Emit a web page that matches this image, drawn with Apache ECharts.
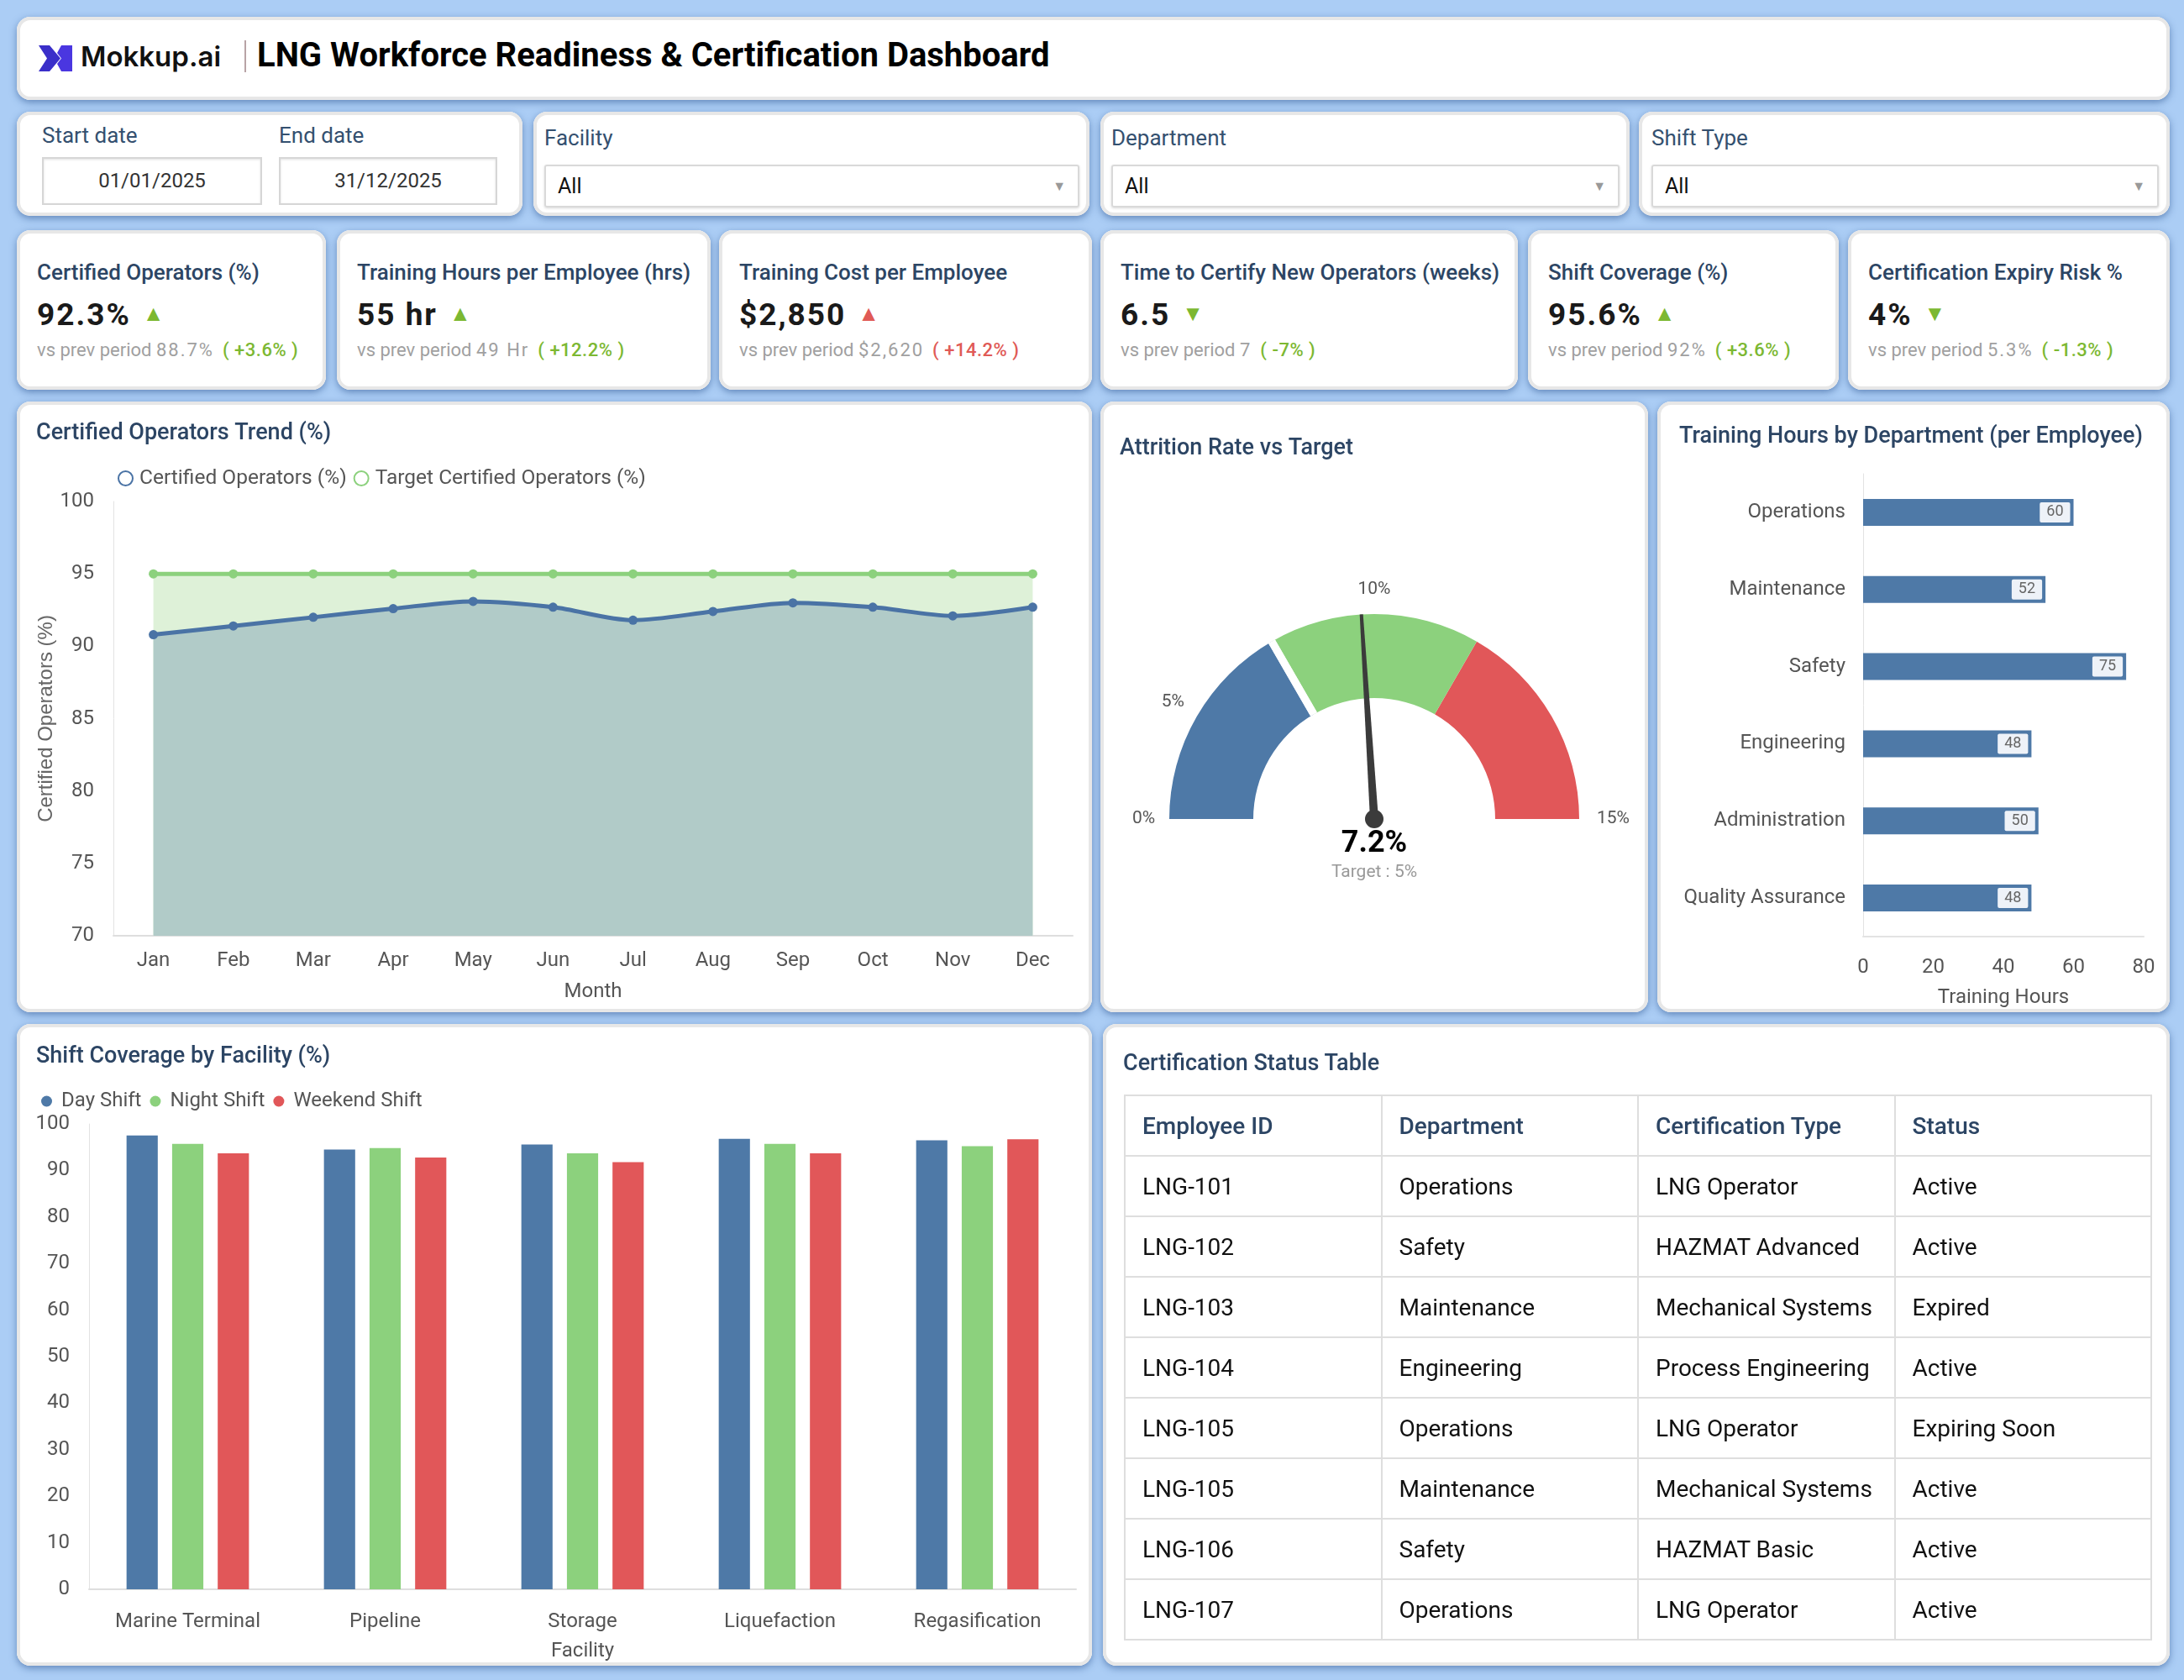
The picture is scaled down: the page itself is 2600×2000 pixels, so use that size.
<!DOCTYPE html>
<html>
<head>
<meta charset="UTF-8">
<title>LNG Workforce Readiness &amp; Certification Dashboard</title>
<script type="text/javascript" src="https://cdn.jsdelivr.net/npm/echarts@6/dist/echarts.min.js"></script>
<style type="text/css">
	body{margin:0;width:2600px;height:2000px;background:#abcdf5;font-family:Roboto,"Noto Sans",sans-serif;position:relative;overflow:hidden;}
	.card{position:absolute;background:#fff;border-radius:16px;box-sizing:border-box;
		box-shadow:inset 0 0 0 4px #e7e7e7, 0 3px 9px rgba(40,80,140,.55);}
	.chart{position:absolute;left:0;top:0;width:100%;height:100%;}
	.lbl{position:absolute;font-size:26px;color:#34506f;}
	.datebox{position:absolute;height:57px;border:2px solid #d6d6d6;box-sizing:border-box;box-shadow:inset 0 1px 3px rgba(0,0,0,.12);
		font-size:24px;color:#333;text-align:center;line-height:53px;}
	.select{position:absolute;height:51px;border:2px solid #d9d9d9;border-radius:3px;box-sizing:border-box;box-shadow:0 1px 3px rgba(0,0,0,.15);
		font-size:25px;color:#111;line-height:47px;padding-left:14px;}
	.select .arr{position:absolute;right:14px;top:0;color:#999;font-size:16px;}
	.kpi-title{position:absolute;left:24px;top:35px;font-size:26px;font-weight:500;color:#2c4564;white-space:nowrap;}
	.kpi-val{position:absolute;left:24px;top:79px;font-size:37px;font-weight:700;color:#1a1a1a;letter-spacing:2px;white-space:nowrap;}
	.kpi-val .tri{font-size:26px;margin-left:14px;vertical-align:5px;letter-spacing:0;}
	.kpi-sub{position:absolute;left:24px;top:130px;font-size:22px;color:#a0a0a0;white-space:nowrap;}
	.kpi-sub .num{letter-spacing:2px;}
	.kpi-sub .d{margin-left:10px;font-weight:500;letter-spacing:0.5px;}
	.good{color:#7cb832;}
	.bad{color:#e05a56;}
	#tbl{position:absolute;left:25px;top:84px;width:1224px;border-collapse:collapse;}
	#tbl td{border:2px solid #dedede;height:70px;padding:0 0 0 20px;font-size:28px;color:#111;width:25%;}
	#tbl tr:first-child td{font-weight:500;color:#2c4564;}
</style>
</head>
<body>

<div class="card" style="left:20px;top:20px;width:2563px;height:99px;">
	<svg style="position:absolute;left:26px;top:34px;" width="40" height="31" viewBox="0 0 40 31">
		<polygon points="0,0 13,0 26,15.5 13,31 0,31 10,15.5" fill="#3a2fc9"/>
		<polygon points="27,0 40,0 40,31 27,31 22,22 27,15.5 22,9" fill="#4a36e0"/>
	</svg>
	<div style="position:absolute;left:76px;top:27px;font-family:Inter,Roboto,sans-serif;font-size:33px;font-weight:600;color:#111;">Mokkup.ai</div>
	<div style="position:absolute;left:271px;top:28px;width:2px;height:38px;background:#b8a3a6;"></div>
	<div style="position:absolute;left:286px;top:22px;font-size:40px;font-weight:700;color:#000;white-space:nowrap;">LNG Workforce Readiness &amp; Certification Dashboard</div>
</div>

<div class="card" style="left:20px;top:133px;width:602px;height:124px;">
	<div class="lbl" style="left:30px;top:13px;">Start date</div>
	<div class="lbl" style="left:312px;top:13px;">End date</div>
	<div class="datebox" style="left:30px;top:54px;width:262px;">01/01/2025</div>
	<div class="datebox" style="left:312px;top:54px;width:260px;">31/12/2025</div>
</div>
<div class="card" style="left:635px;top:133px;width:662px;height:124px;">
	<div class="lbl" style="left:13px;top:16px;">Facility</div>
	<div class="select" style="left:13px;top:63px;width:637px;">All<span class="arr">&#9660;</span></div>
</div>
<div class="card" style="left:1310px;top:133px;width:630px;height:124px;">
	<div class="lbl" style="left:13px;top:16px;">Department</div>
	<div class="select" style="left:13px;top:63px;width:605px;">All<span class="arr">&#9660;</span></div>
</div>
<div class="card" style="left:1951px;top:133px;width:632px;height:124px;">
	<div class="lbl" style="left:15px;top:16px;">Shift Type</div>
	<div class="select" style="left:15px;top:63px;width:604px;">All<span class="arr">&#9660;</span></div>
</div>

<div id="kpis"></div>

<div class="card" style="left:20px;top:478px;width:1280px;height:727px;"><div class="chart" id="trend"></div></div>
<div class="card" style="left:1310px;top:478px;width:652px;height:727px;"><div class="chart" id="gauge"></div></div>
<div class="card" style="left:1973px;top:478px;width:610px;height:727px;"><div class="chart" id="hours"></div></div>
<div class="card" style="left:20px;top:1219px;width:1280px;height:764px;"><div class="chart" id="shift"></div></div>
<div class="card" style="left:1313px;top:1219px;width:1270px;height:764px;">
	<div style="position:absolute;left:24px;top:30px;font-size:27px;font-weight:500;color:#2c4564;">Certification Status Table</div>
	<table id="tbl"></table>
</div>

<script type="text/javascript">
	// KPI cards
	var kpiTitles = ['Certified Operators (%)','Training Hours per Employee (hrs)','Training Cost per Employee','Time to Certify New Operators (weeks)','Shift Coverage (%)','Certification Expiry Risk %'];
	var kpiValues = ['92.3%','55 hr','$2,850','6.5','95.6%','4%'];
	var kpiUp = [true,true,true,false,true,false];
	var kpiGood = [true,true,false,true,true,true];
	var kpiPrev = ['88.7%','49 Hr','$2,620','7','92%','5.3%'];
	var kpiDelta = ['+3.6%','+12.2%','+14.2%','-7%','+3.6%','-1.3%'];
	var kpiLeft = [20,401,856,1310,1819,2200];
	var kpiWidth = [368,445,444,497,370,383];

	// charts
	var months = ['Jan','Feb','Mar','Apr','May','Jun','Jul','Aug','Sep','Oct','Nov','Dec'];
	var certifiedPct = [90.8,91.4,92.0,92.6,93.1,92.7,91.8,92.4,93.0,92.7,92.1,92.7];
	var targetPct = [95,95,95,95,95,95,95,95,95,95,95,95];

	var attritionRate = 7.2;
	var attritionTarget = 5;

	var departments = ['Operations','Maintenance','Safety','Engineering','Administration','Quality Assurance'];
	var trainingHours = [60,52,75,48,50,48];

	var facilities = ['Marine Terminal','Pipeline','Storage','Liquefaction','Regasification'];
	var dayShift = [97.5,94.5,95.6,96.8,96.5];
	var nightShift = [95.7,94.8,93.7,95.7,95.2];
	var weekendShift = [93.7,92.8,91.8,93.7,96.7];

	// table
	var empIds = ['LNG-101','LNG-102','LNG-103','LNG-104','LNG-105','LNG-105','LNG-106','LNG-107'];
	var empDepts = ['Operations','Safety','Maintenance','Engineering','Operations','Maintenance','Safety','Operations'];
	var certTypes = ['LNG Operator','HAZMAT Advanced','Mechanical Systems','Process Engineering','LNG Operator','Mechanical Systems','HAZMAT Basic','LNG Operator'];
	var certStatus = ['Active','Active','Expired','Active','Expiring Soon','Active','Active','Active'];

	var BLUE = '#4e79a7', GREEN = '#8cd17d', RED = '#e15759';
	var TITLE = '#2c4564', AXIS = '#555';

	var html = '';
	for(var i = 0;i<kpiTitles.length;i++){
		var cls = kpiGood[i] ? 'good' : 'bad';
		html += '<div class="card" style="left:'+kpiLeft[i]+'px;top:274px;width:'+kpiWidth[i]+'px;height:190px;">'
			+ '<div class="kpi-title">'+kpiTitles[i]+'</div>'
			+ '<div class="kpi-val">'+kpiValues[i]+'<span class="tri '+cls+'">'+(kpiUp[i] ? '&#9650;' : '&#9660;')+'</span></div>'
			+ '<div class="kpi-sub">vs prev period <span class="num">'+kpiPrev[i]+'</span><span class="d '+cls+'">( '+kpiDelta[i]+' )</span></div>'
			+ '</div>';
	}
	document.getElementById('kpis').innerHTML = html;

	var tableData = '<tr><td>Employee ID</td><td>Department</td><td>Certification Type</td><td>Status</td></tr>';
	for(var i = 0;i<empIds.length;i++){
		tableData = tableData + '<tr><td>'+empIds[i]+'</td><td>'+empDepts[i]+'</td><td>'+certTypes[i]+'</td><td>'+certStatus[i]+'</td></tr>';
	}
	document.getElementById('tbl').innerHTML = tableData;

	// Certified operators trend
	var trendChart = echarts.init(document.getElementById('trend'));
	trendChart.setOption({
		textStyle: {fontFamily: 'Roboto'},
		title: {text: 'Certified Operators Trend (%)', left: 18, top: 20, textStyle: {fontSize: 27, fontWeight: 500, color: TITLE}},
		legend: {
			left: 115, top: 74, itemGap: 8, itemWidth: 17, itemHeight: 17,
			textStyle: {fontSize: 24.5, color: AXIS, padding: [0, 0, 0, 3]},
			data: [{name: 'Certified Operators (%)', icon: 'emptyCircle'}, {name: 'Target Certified Operators (%)', icon: 'emptyCircle'}]
		},
		grid: {left: 115, right: 23, top: 119, bottom: 91},
		xAxis: {
			type: 'category', data: months,
			axisLine: {lineStyle: {color: '#dedede', width: 2}}, axisTick: {show: false},
			axisLabel: {color: AXIS, fontSize: 24, margin: 18},
			name: 'Month', nameLocation: 'middle', nameGap: 55, nameTextStyle: {color: AXIS, fontSize: 24}
		},
		yAxis: {
			type: 'value', min: 70, max: 100, interval: 5,
			axisLine: {show: true, lineStyle: {color: '#e3e3e3'}}, splitLine: {show: false},
			axisLabel: {color: AXIS, fontSize: 24, margin: 23},
			name: 'Certified Operators (%)', nameLocation: 'middle', nameGap: 68, nameMoveOverlap: false,
			nameTextStyle: {fontFamily: 'Liberation Sans', fontSize: 24, color: '#666'}
		},
		series: [{
			name: 'Certified Operators (%)', type: 'line', data: certifiedPct, smooth: 0.3,
			symbol: 'circle', symbolSize: 11, z: 3,
			lineStyle: {width: 5, color: '#4a73a5'}, itemStyle: {color: '#4a73a5', borderWidth: 3},
			areaStyle: {color: '#b1cbc8', opacity: 1}
		},{
			name: 'Target Certified Operators (%)', type: 'line', data: targetPct,
			symbol: 'circle', symbolSize: 11, z: 2,
			lineStyle: {width: 5, color: GREEN}, itemStyle: {color: GREEN, borderWidth: 3},
			areaStyle: {color: '#def1d8', opacity: 1}
		}]
	});

	// Attrition gauge
	var gaugeChart = echarts.init(document.getElementById('gauge'));
	var gaugeTicks = {0: '{a|0%}', 2.5: '{b|5%}', 7.5: '{c|10%}', 15: '15%'};
	gaugeChart.setOption({
		textStyle: {fontFamily: 'Roboto'},
		title: {text: 'Attrition Rate vs Target', left: 18, top: 38, textStyle: {fontSize: 27, fontWeight: 500, color: TITLE}},
		series: [{
			type: 'gauge', center: [326, 497], radius: 244,
			startAngle: 180, endAngle: 0, min: 0, max: 15, splitNumber: 6,
			axisLine: {lineStyle: {width: 100, color: [[1/3, BLUE], [2/3, GREEN], [1, RED]]}},
			axisTick: {show: false},
			splitLine: {show: false, length: 0},
			axisLabel: {
				distance: -70, color: '#555', fontSize: 21,
				formatter: function(v){ return gaugeTicks[v] || ''; },
				rich: {
					a: {fontSize: 21, color: '#555', padding: [0, 0, 0, 16]},
					b: {fontSize: 21, color: '#555', padding: [26, 0, 0, 10]},
					c: {fontSize: 21, color: '#555', padding: [20, 0, 0, 0]}
				}
			},
			pointer: {icon: 'path://M3 0 L7 0 L10 100 L0 100 Z', length: '100%', width: 10, itemStyle: {color: '#3b3b3b'}},
			anchor: {show: true, showAbove: true, size: 22, itemStyle: {color: '#3b3b3b'}},
			title: {offsetCenter: [0, 64], fontSize: 21, color: '#999'},
			detail: {offsetCenter: [0, 30], fontSize: 36, fontWeight: 700, color: '#000', formatter: '{value}%'},
			data: [{value: attritionRate, name: 'Target : ' + attritionTarget + '%'}]
		},{
			type: 'gauge', center: [326, 497], radius: 244,
			startAngle: 120, endAngle: -240, min: 0, max: 1, splitNumber: 1,
			axisLine: {show: false, lineStyle: {width: 0}},
			axisTick: {show: false}, axisLabel: {show: false},
			splitLine: {show: true, length: 100, distance: 0, lineStyle: {color: '#fff', width: 9}},
			pointer: {show: false}, anchor: {show: false}, title: {show: false}, detail: {show: false},
			data: [{value: 0}]
		}]
	});

	// Training hours by department
	var hoursChart = echarts.init(document.getElementById('hours'));
	hoursChart.setOption({
		textStyle: {fontFamily: 'Roboto'},
		title: {text: 'Training Hours by Department (per Employee)', left: 21, top: 24, textStyle: {fontSize: 27, fontWeight: 500, color: TITLE}},
		grid: {left: 245, right: 31, top: 86, bottom: 88},
		xAxis: {
			type: 'value', min: 0, max: 80, interval: 20,
			axisLine: {show: true, lineStyle: {color: '#e3e3e3', width: 2}}, splitLine: {show: false},
			axisLabel: {color: AXIS, fontSize: 24, margin: 25},
			name: 'Training Hours', nameLocation: 'middle', nameGap: 61, nameTextStyle: {color: AXIS, fontSize: 24}
		},
		yAxis: {
			type: 'category', data: departments, inverse: true,
			axisLine: {lineStyle: {color: '#e3e3e3'}}, axisTick: {show: false},
			axisLabel: {color: AXIS, fontSize: 24, margin: 21}
		},
		series: [{
			type: 'bar', data: trainingHours, barWidth: 32,
			itemStyle: {color: BLUE},
			label: {show: true, position: 'insideRight', distance: 4, color: '#666', fontSize: 18,
				backgroundColor: '#eef2f8', padding: [3, 8], borderRadius: 2}
		}]
	});

	// Shift coverage by facility
	var shiftChart = echarts.init(document.getElementById('shift'));
	shiftChart.setOption({
		textStyle: {fontFamily: 'Roboto'},
		title: {text: 'Shift Coverage by Facility (%)', left: 18, top: 21, textStyle: {fontSize: 27, fontWeight: 500, color: TITLE}},
		legend: {
			left: 24, top: 75, itemGap: 10, itemWidth: 13, itemHeight: 13, icon: 'circle',
			textStyle: {fontSize: 24, color: AXIS, padding: [0, 0, 0, 6]}
		},
		grid: {left: 86, right: 19, top: 119, bottom: 88},
		xAxis: {
			type: 'category', data: facilities,
			axisLine: {lineStyle: {color: '#dedede', width: 2}}, axisTick: {show: false},
			axisLabel: {color: AXIS, fontSize: 24, margin: 27},
			name: 'Facility', nameLocation: 'middle', nameGap: 62, nameTextStyle: {color: AXIS, fontSize: 24}
		},
		yAxis: {
			type: 'value', min: 0, max: 100, interval: 10,
			axisLine: {show: true, lineStyle: {color: '#e3e3e3'}}, splitLine: {show: false},
			axisLabel: {color: AXIS, fontSize: 24, margin: 23}
		},
		series: [
			{name: 'Day Shift', type: 'bar', data: dayShift, itemStyle: {color: BLUE}, barGap: '46%', barCategoryGap: '38%'},
			{name: 'Night Shift', type: 'bar', data: nightShift, itemStyle: {color: GREEN}},
			{name: 'Weekend Shift', type: 'bar', data: weekendShift, itemStyle: {color: RED}}
		]
	});
</script>
</body>
</html>
